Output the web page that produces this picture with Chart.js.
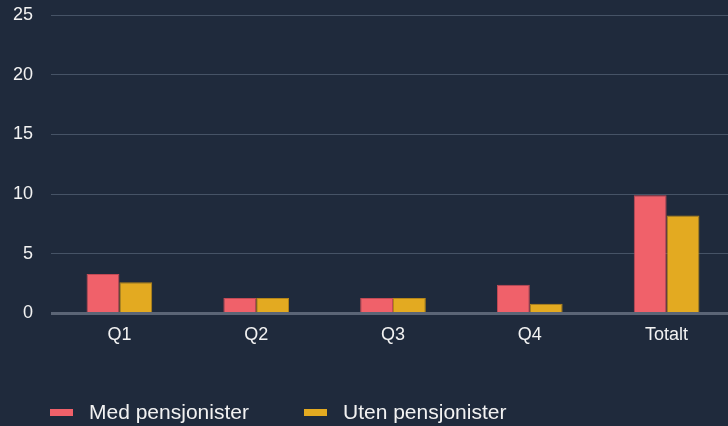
<!DOCTYPE html>
<html lang="no">
<head>
<meta charset="utf-8">
<script src="https://cdn.jsdelivr.net/npm/chart.js@4/dist/chart.umd.min.js"></script>
<style>
  html, body { margin: 0; padding: 0; background: #1f2a3c; overflow: hidden; }
  #wrap { position: relative; width: 736px; height: 426px; }
  #chart { display: block; }
  .legend { position: absolute; top: 0; left: 0; font-family: "Liberation Sans", Arial, Helvetica, sans-serif; color: #f2f2f2; }
  .swatch { position: absolute; width: 23px; height: 7px; }
  .label { position: absolute; font-size: 21px; line-height: 21px; white-space: nowrap; }
</style>
</head>
<body>
<div id="wrap">
  <canvas id="chart" width="736" height="426"></canvas>
  <div class="legend" id="legend"></div>
</div>
<script>
// Kvartaler og totalt
const categories = ['Q1', 'Q2', 'Q3', 'Q4', 'Totalt'];
const seriesNames = ['Med pensjonister', 'Uten pensjonister'];
const medPensjonister = [3.3, 1.3, 1.3, 2.4, 9.9];
const utenPensjonister = [2.6, 1.3, 1.3, 0.8, 8.2];
const yTicks = [0, 5, 10, 15, 20, 25];

const colors = ['#f0616a', '#e3aa21'];
const borders = ['#c24a55', '#b58618'];
const textColor = '#f2f2f2';
const fontFamily = '"Liberation Sans", Arial, Helvetica, sans-serif';

const chart = new Chart(document.getElementById('chart'), {
  type: 'bar',
  data: {
    labels: categories,
    datasets: [
      { label: seriesNames[0], data: medPensjonister, backgroundColor: colors[0], borderColor: borders[0], borderWidth: 1 },
      { label: seriesNames[1], data: utenPensjonister, backgroundColor: colors[1], borderColor: borders[1], borderWidth: 1 }
    ]
  },
  options: {
    responsive: false,
    animation: false,
    datasets: { bar: { categoryPercentage: 0.48, barPercentage: 1 } },
    layout: { padding: { left: 13, right: 1, top: 15, bottom: 69 } },
    plugins: {
      legend: { display: false },
      tooltip: { enabled: false }
    },
    scales: {
      x: {
        grid: { display: false, drawTicks: false },
        border: { display: false },
        ticks: { color: textColor, padding: 11, font: { family: fontFamily, size: 18 } }
      },
      y: {
        min: 0,
        max: yTicks[yTicks.length - 1],
        afterBuildTicks: (scale) => { scale.ticks = yTicks.map(v => ({ value: v })); },
        afterFit: (scale) => {
          scale.width = 38;
          scale.paddingTop = 0;
          scale.paddingBottom = 0;
        },
        grid: {
          drawTicks: false,
          color: (ctx) => ctx.tick && ctx.tick.value === 0 ? '#5b6576' : '#465366',
          lineWidth: (ctx) => ctx.tick && ctx.tick.value === 0 ? 3 : 1
        },
        border: { display: false },
        ticks: { color: textColor, padding: 18, font: { family: fontFamily, size: 18 } }
      }
    }
  }
});

// Legend under the chart
const legendEl = document.getElementById('legend');
const legendX = [50, 304];
seriesNames.forEach((name, i) => {
  const sw = document.createElement('div');
  sw.className = 'swatch';
  sw.style.left = legendX[i] + 'px';
  sw.style.top = '409px';
  sw.style.background = colors[i];
  legendEl.appendChild(sw);
  const lb = document.createElement('div');
  lb.className = 'label';
  lb.style.left = (legendX[i] + 39) + 'px';
  lb.style.top = '401px';
  lb.textContent = name;
  legendEl.appendChild(lb);
});
</script>
</body>
</html>
